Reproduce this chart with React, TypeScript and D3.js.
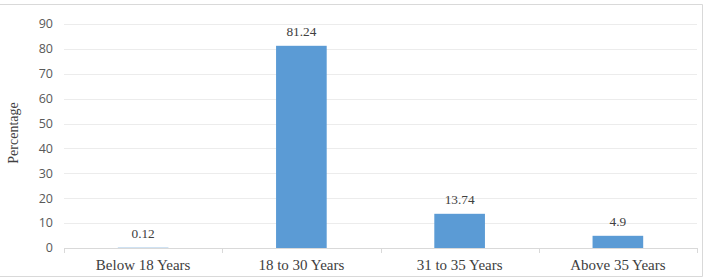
import React, { useEffect, useRef } from 'react';
import * as d3 from 'd3';

const categories = ['Below 18 Years', '18 to 30 Years', '31 to 35 Years', 'Above 35 Years'];
const values = [0.12, 81.24, 13.74, 4.9];
const yTicks = [0, 10, 20, 30, 40, 50, 60, 70, 80, 90];

const width = 707;
const height = 280;

const App: React.FC = () => {
    const svgRef = useRef<SVGSVGElement>(null);

    useEffect(() => {
        if (!svgRef.current) return;
        const svg = d3.select(svgRef.current);
        svg.selectAll('*').remove();

        // outer frame (no left edge visible in the source)
        svg.append('rect').attr('width', width).attr('height', height).attr('fill', '#fff');
        svg.append('path')
            .attr('d', `M0,4.5 H702.5 V276.5 H0`)
            .attr('fill', 'none')
            .attr('stroke', '#d9d9d9')
            .attr('stroke-width', 1);

        const x = d3.scaleBand<string>()
            .domain(categories)
            .range([64, 697])
            .paddingInner(0.68)
            .paddingOuter(0.34);

        const y = d3.scaleLinear().domain([0, 90]).range([248, 24]);

        // gridlines
        svg.append('g')
            .selectAll('line')
            .data(yTicks.filter(t => t > 0))
            .enter()
            .append('line')
            .attr('x1', 64)
            .attr('x2', 697)
            .attr('y1', d => Math.round(y(d)) + 0.5)
            .attr('y2', d => Math.round(y(d)) + 0.5)
            .attr('stroke', '#ececec')
            .attr('stroke-width', 1);

        // y tick labels
        svg.append('g')
            .selectAll('text')
            .data(yTicks)
            .enter()
            .append('text')
            .attr('x', 53)
            .attr('y', d => y(d))
            .attr('dy', '0.35em')
            .attr('text-anchor', 'end')
            .attr('fill', '#595959')
            .style('font-family', '"Open Sans", sans-serif')
            .style('font-size', '12.5px')
            .text(d => d);

        // bars
        svg.append('g')
            .selectAll('rect')
            .data(values)
            .enter()
            .append('rect')
            .attr('x', (_, i) => x(categories[i]) as number)
            .attr('y', d => y(d))
            .attr('width', x.bandwidth())
            .attr('height', d => y(0) - y(d))
            .attr('fill', '#5b9bd5');

        // x axis line + ticks at category boundaries
        const step = x.step();
        const x0 = 64;
        svg.append('line')
            .attr('x1', x0).attr('x2', 697)
            .attr('y1', 248.5).attr('y2', 248.5)
            .attr('stroke', '#d9d9d9');
        svg.append('g')
            .selectAll('line')
            .data(d3.range(categories.length + 1))
            .enter()
            .append('line')
            .attr('x1', i => Math.round(x0 + i * step) + 0.5)
            .attr('x2', i => Math.round(x0 + i * step) + 0.5)
            .attr('y1', 248)
            .attr('y2', 253)
            .attr('stroke', '#d9d9d9');

        // value labels
        svg.append('g')
            .selectAll('text')
            .data(values)
            .enter()
            .append('text')
            .attr('x', (_, i) => (x(categories[i]) as number) + x.bandwidth() / 2)
            .attr('y', d => y(d) - 9.5)
            .attr('text-anchor', 'middle')
            .attr('fill', '#404040')
            .style('font-family', '"Liberation Serif", serif')
            .style('font-size', '13.3px')
            .text(d => String(d));

        // category labels
        svg.append('g')
            .selectAll('text')
            .data(categories)
            .enter()
            .append('text')
            .attr('x', d => (x(d) as number) + x.bandwidth() / 2)
            .attr('y', 270)
            .attr('text-anchor', 'middle')
            .attr('fill', '#404040')
            .style('font-family', '"Liberation Serif", serif')
            .style('font-size', '15px')
            .text(d => d);

        // y axis title
        svg.append('text')
            .attr('transform', 'translate(18,133) rotate(-90)')
            .attr('text-anchor', 'middle')
            .attr('fill', '#404040')
            .style('font-family', '"Liberation Serif", serif')
            .style('font-size', '14px')
            .text('Percentage');
    }, []);

    return (
        <div style={{ position: 'absolute', left: 0, top: 0 }}>
            <svg ref={svgRef} width={width} height={height} style={{ display: 'block' }} />
        </div>
    );
};

export default App;
